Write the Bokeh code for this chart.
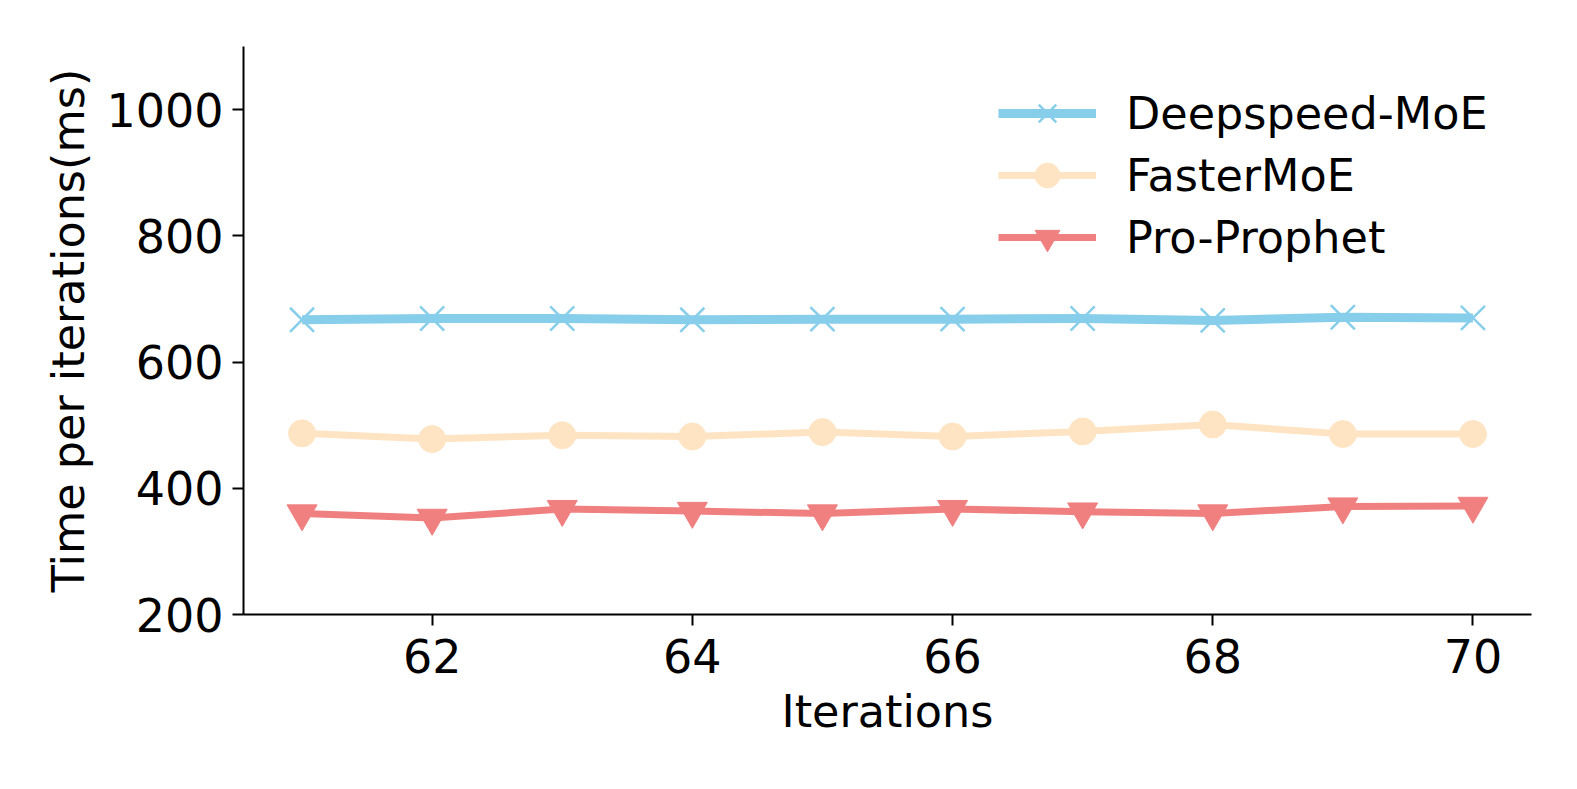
from bokeh.plotting import figure
from bokeh.models import Range1d, FixedTicker, Legend, LegendItem
from bokeh.embed import file_html
from bokeh.resources import INLINE

iterations = [61, 62, 63, 64, 65, 66, 67, 68, 69, 70]
deepspeed_moe = [667, 669, 669, 667, 668, 668, 669, 666, 671, 670]
faster_moe = [487, 478, 484, 482, 489, 482, 490, 501, 486, 486]
pro_prophet = [360, 353, 367, 364, 360, 367, 363, 360, 371, 372]
series_names = ["Deepspeed-MoE", "FasterMoE", "Pro-Prophet"]
x_ticks = [62, 64, 66, 68, 70]
y_ticks = [200, 400, 600, 800, 1000]

FONT = "DejaVu Sans"
TICK_FS = "46px"
LABEL_FS = "44.5px"

p = figure(width=1561, height=773, output_backend="svg", toolbar_location=None,
           x_range=Range1d(60.55, 70.45), y_range=Range1d(200, 1100),
           min_border_left=243, min_border_right=30, min_border_top=46,
           min_border_bottom=159)
p.grid.visible = False
p.outline_line_color = None
p.background_fill_color = "white"
p.border_fill_color = "white"

for ax in (p.xaxis[0], p.yaxis[0]):
    ax.axis_line_width = 2
    ax.axis_line_color = "black"
    ax.major_tick_line_width = 2
    ax.major_tick_line_color = "black"
    ax.major_tick_out = 11
    ax.major_tick_in = 0
    ax.minor_tick_line_color = None
    ax.major_label_text_font = FONT
    ax.major_label_text_font_size = TICK_FS
    ax.major_label_text_color = "black"
    ax.axis_label_text_font = FONT
    ax.axis_label_text_font_size = LABEL_FS
    ax.axis_label_text_font_style = "normal"
    ax.axis_label_text_color = "black"

p.xaxis.ticker = FixedTicker(ticks=x_ticks)
p.yaxis.ticker = FixedTicker(ticks=y_ticks)
p.xaxis.axis_label = "Iterations"
p.yaxis.axis_label = "Time per iterations(ms)"
p.xaxis.major_label_standoff = 13
p.xaxis.axis_label_standoff = 10
p.yaxis.major_label_standoff = 9
p.yaxis.axis_label_standoff = 9

l1 = p.line(iterations, deepspeed_moe, line_color="#87CEEB", line_width=9, line_join="round")
s1 = p.scatter(iterations, deepspeed_moe, marker="x", size=34, line_color="#87CEEB", line_width=2.5)
l2 = p.line(iterations, faster_moe, line_color="#FFE4C4", line_width=7, line_join="round")
s2 = p.scatter(iterations, faster_moe, marker="circle", size=27, fill_color="#FFE4C4",
               line_color="#FFE4C4", line_width=1)
l3 = p.line(iterations, pro_prophet, line_color="#F08080", line_width=7, line_join="round")
s3 = p.scatter(iterations, pro_prophet, marker="inverted_triangle", size=30, fill_color="#F08080",
               line_color="#F08080", line_width=1)

legend = Legend(items=[
    LegendItem(label=series_names[0], renderers=[l1, s1]),
    LegendItem(label=series_names[1], renderers=[l2, s2]),
    LegendItem(label=series_names[2], renderers=[l3, s3]),
], location=(755, 346), glyph_width=98, glyph_height=62, label_height=62,
    spacing=0, padding=0, margin=0, label_standoff=30,
    border_line_color=None, background_fill_alpha=0,
    label_text_font=FONT, label_text_font_size=LABEL_FS, label_text_color="black")
p.add_layout(legend)

open("out.html", "w").write(file_html(p, INLINE))
